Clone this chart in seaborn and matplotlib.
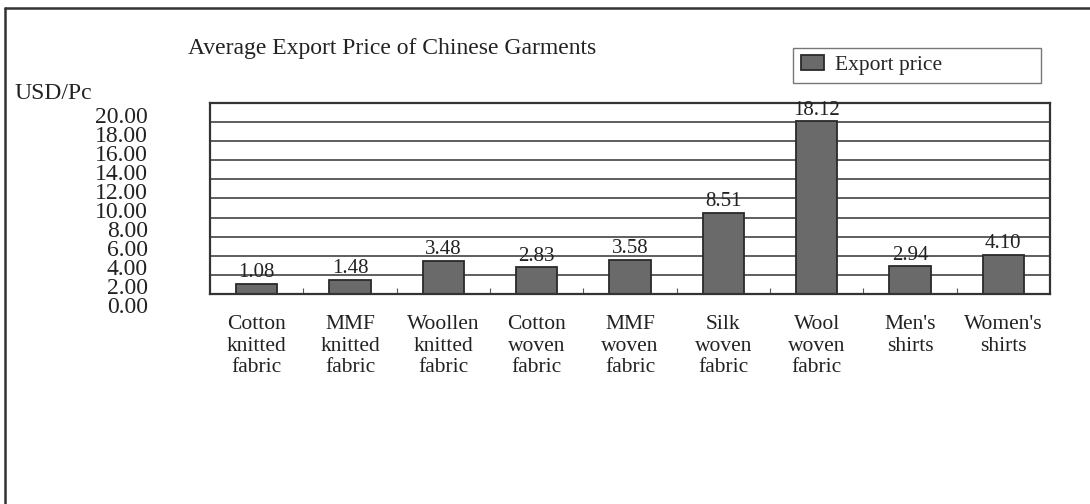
import matplotlib
matplotlib.use("Agg")
import matplotlib.pyplot as plt
import seaborn as sns
import pandas as pd
from matplotlib.lines import Line2D

categories = ["Cotton\nknitted\nfabric", "MMF\nknitted\nfabric", "Woollen\nknitted\nfabric",
              "Cotton\nwoven\nfabric", "MMF\nwoven\nfabric", "Silk\nwoven\nfabric",
              "Wool\nwoven\nfabric", "Men's\nshirts\n", "Women's\nshirts\n"]
export_price = [1.08, 1.48, 3.48, 2.83, 3.58, 8.51, 18.12, 2.94, 4.10]
y_ticks = [0, 2, 4, 6, 8, 10, 12, 14, 16, 18, 20]
series_name = "Export price"

sns.set_style("white")
plt.rcParams["font.family"] = ["Liberation Serif", "DejaVu Serif"]

df = pd.DataFrame({"cat": categories, "price": export_price, "series": series_name})

fig = plt.figure(figsize=(10.9, 5.04), dpi=100)
ax = fig.add_axes([210/1090, 1-294/504, 840/1090, 191/504])

sns.barplot(data=df, x="cat", y="price", hue="series", palette=["#6a6a6a"],
            width=0.44, edgecolor="#2a2a2a", linewidth=1.3, ax=ax, legend=True)

ax.set_ylim(0, 20)
ax.set_xlim(-0.5, len(categories) - 0.5)
ax.set_yticks(y_ticks)
ax.yaxis.grid(True, color="#333333", linewidth=1.1)
ax.set_axisbelow(True)
ax.tick_params(axis="y", left=False, labelleft=False)
for s in ax.spines.values():
    s.set_visible(True)
    s.set_color("#333333")
    s.set_linewidth(1.6)
ax.set_xlabel("")
ax.set_ylabel("")
ax.set_xticks(range(len(categories)))
ax.set_xticklabels(categories, fontsize=15.5, linespacing=1.2, va="top")
ax.tick_params(axis="x", which="major", length=0, pad=15, colors="#222222")
ax.set_xticks([i + 0.5 for i in range(len(categories) - 1)], minor=True)
ax.tick_params(axis="x", which="minor", direction="in", length=4, width=0.8, color="#555555", bottom=True)

for c in ax.containers:
    ax.bar_label(c, fmt="%.2f", padding=1, fontsize=15, color="#222222")

leg = ax.legend(loc="lower left", bbox_to_anchor=(793/1090, 1-83/504, 248/1090, 32/504),
                bbox_transform=fig.transFigure, mode="expand", fontsize=15.5,
                frameon=True, fancybox=False, borderaxespad=0, handlelength=1.1,
                handleheight=0.7, handletextpad=0.5, borderpad=0.35)
leg.get_frame().set_edgecolor("#555555")
leg.get_frame().set_linewidth(1.0)

# Separate axis for the (offset) y tick labels as printed in the reference
ay = fig.add_axes([148/1090, 1-305/504, 0.0001, 190/504])
ay.set_ylim(0, 20)
ay.set_yticks(y_ticks)
ay.set_yticklabels([f"{v:.2f}" for v in y_ticks], fontsize=17, color="#222222")
ay.tick_params(axis="y", length=0, pad=0)
ay.set_xticks([])
for s in ay.spines.values():
    s.set_visible(False)
ay.patch.set_alpha(0)

fig.text(188/1090, 1-54/504, "Average Export Price of Chinese Garments", fontsize=17,
         va="baseline", ha="left", color="#222222")
fig.text(14/1090, 1-99/504, "USD/Pc", fontsize=17, va="baseline", ha="left", color="#222222")

fig.add_artist(Line2D([5/1090, 1], [1-8/504, 1-8/504], transform=fig.transFigure,
                      color="#333333", linewidth=1.8))
fig.add_artist(Line2D([5/1090, 5/1090], [0, 1-8/504], transform=fig.transFigure,
                      color="#333333", linewidth=1.8))

fig.savefig("out.png", dpi=100)
